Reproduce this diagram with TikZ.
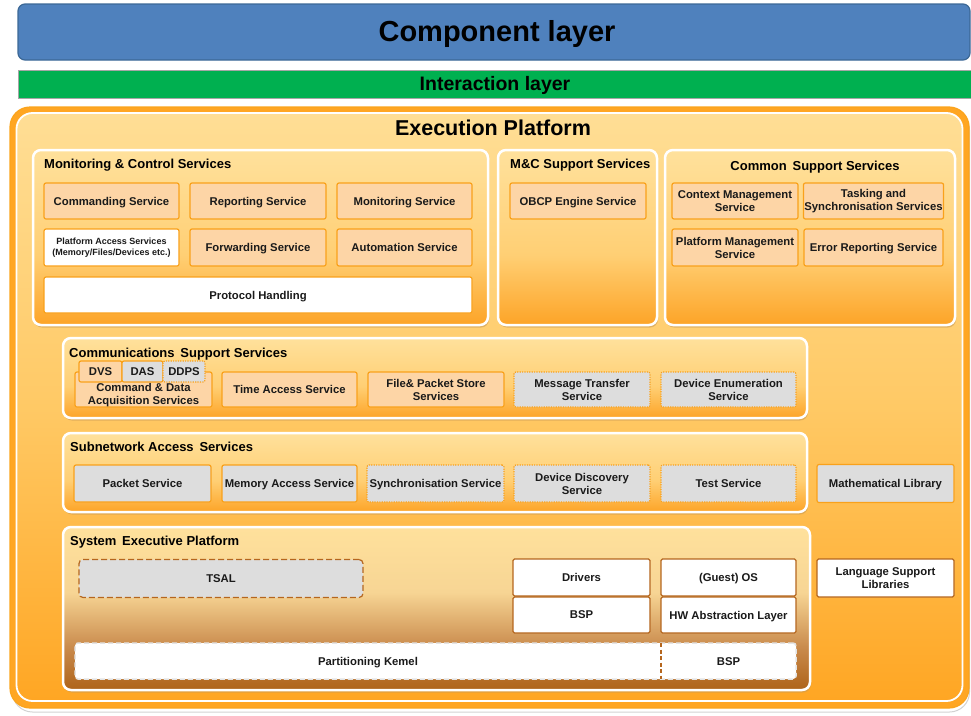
\documentclass[tikz,border=0pt]{standalone}
\usepackage{fontspec}
\setmainfont{Liberation Sans}

% palette
\definecolor{layerblue}{HTML}{4F81BD}
\definecolor{layerblueedge}{HTML}{3C6896}
\definecolor{layergreen}{HTML}{00B050}
\definecolor{epedge}{HTML}{FBA41C}
\definecolor{eptop}{HTML}{FFDE95}
\definecolor{epmid}{HTML}{FFC965}
\definecolor{epbot}{HTML}{FFA623}
\definecolor{pnltop}{HTML}{FFE19C}
\definecolor{pnlmid}{HTML}{FFCF74}
\definecolor{pnlbot}{HTML}{FDA427}
\definecolor{sxlight}{HTML}{F7D594}
\definecolor{sxmid}{HTML}{C98A4C}
\definecolor{sxbot}{HTML}{AE6319}
\definecolor{svcedge}{HTML}{F9A11B}
\definecolor{svcfill}{HTML}{FDD5A6}
\definecolor{grayfill}{HTML}{DDDDDD}
\definecolor{brownedge}{HTML}{B5661E}
\definecolor{kernedge}{HTML}{E4E4E4}
\definecolor{shadowtan}{HTML}{C89A55}
\definecolor{txt}{HTML}{1A1A1A}

% vertical gradients (0bp = bottom, 100bp = top; path spans 25bp..75bp)
\pgfdeclareverticalshading{epshade}{100bp}{color(0bp)=(epbot); color(25bp)=(epbot); color(50bp)=(epmid); color(75bp)=(eptop); color(100bp)=(eptop)}
\pgfdeclareverticalshading{pnlshade}{100bp}{color(0bp)=(pnlbot); color(25bp)=(pnlbot); color(45bp)=(pnlmid); color(75bp)=(pnltop); color(100bp)=(pnltop)}
\pgfdeclareverticalshading{sxshade}{100bp}{color(0bp)=(sxbot); color(25bp)=(sxbot); color(38bp)=(sxmid); color(55bp)=(sxlight); color(75bp)=(pnltop); color(100bp)=(pnltop)}

\newcommand\svcfont{\fontsize{11.3}{13}\selectfont\bfseries}
\newcommand\smallsvcfont{\fontsize{9}{11}\selectfont\bfseries}
\newcommand\ttlfont{\fontsize{13}{15}\selectfont\bfseries}

\tikzset{
  panel/.style={draw=white, line width=2.5pt, rounded corners=8pt, shading=pnlshade, inner sep=0pt},
  pshadow/.style={fill=shadowtan, opacity=0.55, rounded corners=8pt, inner sep=0pt},
  ptitle/.style={anchor=west, font=\ttlfont, text=black, inner sep=0pt, text depth=0pt},
  svc/.style={rectangle, draw=svcedge, line width=1.2pt, rounded corners=2pt, fill=svcfill,
    text=txt, font=\svcfont, align=center, inner sep=1pt, minimum width=136pt, minimum height=36pt},
  oneline/.style={text depth=0pt},
  graysvc/.style={svc, fill=grayfill},
  dotsvc/.style={svc, fill=grayfill, dash pattern=on 1.2pt off 1.2pt},
  whitesvc/.style={svc, fill=white},
  sepbox/.style={svc, fill=white, draw=brownedge, rounded corners=1.5pt},
  tab/.style={svc, minimum width=42pt, minimum height=21pt, inner sep=0pt, text depth=0pt},
}

\begin{document}
\begin{tikzpicture}[x=1pt, y=-1pt]
\useasboundingbox (0,0) rectangle (971,715);

% ---- top layers
\node[draw=layerblueedge, line width=1.2pt, fill=layerblue, rounded corners=7pt,
      minimum width=952pt, minimum height=56pt, inner sep=0pt] (comp) at (494,32) {};
\node[font=\fontsize{29}{32}\selectfont\bfseries, text=black] (compt) at (497,34) {Component layer};

\node[draw=gray!70, line width=0.6pt, fill=layergreen,
      minimum width=958pt, minimum height=28pt, inner sep=0pt] (inter) at (497,84) {};
\node[font=\fontsize{19.5}{22}\selectfont\bfseries, text=black] (intert) at (495,85) {Interaction layer};

% ---- execution platform frame
\node[draw=gray!35, line width=1pt, rounded corners=20pt,
      minimum width=957pt, minimum height=602pt, inner sep=0pt] (epshadow) at (491,411) {};
\node[draw=epedge, line width=1.2pt, fill=epbot, rounded corners=20pt,
      minimum width=959pt, minimum height=601pt, inner sep=0pt] (ep) at (489.5,407.5) {};
\node[draw=white, line width=1.8pt, shading=epshade, rounded corners=16pt,
      minimum width=946pt, minimum height=588pt, inner sep=0pt] (epin) at (489.5,407) {};
\node[font=\fontsize{21.5}{24}\selectfont\bfseries, text=black] (ept) at (493,128) {Execution Platform};

% ---- panels (shadow first, then panel)
\node[pshadow, minimum width=455pt, minimum height=175pt] at (261.5,240) {};
\node[panel, minimum width=455pt, minimum height=175pt] (mc) at (260.5,237.5) {};
\node[pshadow, minimum width=159pt, minimum height=175pt] at (578.5,240) {};
\node[panel, minimum width=159pt, minimum height=175pt] (mcs) at (577.5,237.5) {};
\node[pshadow, minimum width=290pt, minimum height=175pt] at (811,240) {};
\node[panel, minimum width=290pt, minimum height=175pt] (css) at (810,237.5) {};
\node[pshadow, minimum width=744pt, minimum height=80pt] at (436,380.5) {};
\node[panel, minimum width=744pt, minimum height=80pt] (comms) at (435,378) {};
\node[pshadow, minimum width=744pt, minimum height=79pt] at (436,475) {};
\node[panel, minimum width=744pt, minimum height=79pt] (subnet) at (435,472.5) {};
\node[pshadow, minimum width=747pt, minimum height=163pt] at (437.5,611) {};
\node[panel, shading=sxshade, minimum width=747pt, minimum height=163pt] (sx) at (436.5,608.5) {};

% ---- panel titles
\node[ptitle] (mct) at (44,164) {Monitoring \& Control Services};
\node[ptitle] (mcst) at (510,164) {M\&C Support Services};
\node[ptitle, anchor=center] (csst) at (815,166) {Common\, Support Services};
\node[ptitle] (commst) at (69,353) {Communications\, Support Services};
\node[ptitle] (subnett) at (70,447) {Subnetwork Access\, Services};
\node[ptitle] (sxt) at (70,541) {System\, Executive Platform};

% ---- Monitoring & Control Services
\node[svc, oneline, minimum width=135pt] (cmd) at (111.5,201) {Commanding Service};
\node[svc, oneline] (rep) at (258,201) {Reporting Service};
\node[svc, oneline, minimum width=135pt] (mon) at (404.5,201) {Monitoring Service};
\node[whitesvc, minimum width=135pt, minimum height=37pt, font=\smallsvcfont] (pas) at (111.5,247.5)
  {Platform Access Services\\(Memory/Files/Devices etc.)};
\node[svc, oneline, minimum height=37pt] (fwd) at (258,247.5) {Forwarding Service};
\node[svc, oneline, minimum width=135pt, minimum height=37pt] (aut) at (404.5,247.5) {Automation Service};
\node[whitesvc, oneline, minimum width=428pt] (proto) at (258,295) {Protocol Handling};

% ---- M&C Support Services
\node[svc, oneline] (obcp) at (578,201) {OBCP Engine Service};

% ---- Common Support Services
\node[svc, minimum width=126pt] (ctx) at (735,201) {Context Management\\Service};
\node[svc, minimum width=139pt] (task) at (873.5,201) {Tasking and\\Synchronisation Services};
\node[svc, minimum width=126pt, minimum height=37pt] (pm) at (735,247.5) {Platform Management\\Service};
\node[svc, oneline, minimum width=139pt, minimum height=37pt] (err) at (873.5,247.5) {Error Reporting Service};

% ---- Communications Support Services
\node[svc, minimum width=137pt, minimum height=35pt] (cda) at (143.5,389.5) {};
\node[font=\svcfont, text=txt, align=center, inner sep=0pt] (cdat) at (143.5,395)
  {Command \& Data\\Acquisition Services};
\node[tab, minimum width=43pt] (dvs) at (100.5,371.5) {DVS};
\node[tab, fill=grayfill, minimum width=41pt] (das) at (142.5,371.5) {DAS};
\node[tab, fill=grayfill, dash pattern=on 1.2pt off 1.2pt] (ddps) at (184,371.5) {DDPS};
\node[svc, oneline, minimum width=135pt, minimum height=35pt] (tas) at (289.5,389.5) {Time Access Service};
\node[svc, minimum height=35pt] (fps) at (436,389.5) {File\& Packet Store\\Services};
\node[dotsvc, minimum height=35pt] (mts) at (582,389.5) {Message Transfer\\Service};
\node[dotsvc, minimum width=135pt, minimum height=35pt] (des) at (728.5,389.5) {Device Enumeration\\Service};

% ---- Subnetwork Access Services
\node[graysvc, oneline, minimum width=137pt, minimum height=37pt] (pkt) at (142.5,483.5) {Packet Service};
\node[graysvc, oneline, minimum width=135pt, minimum height=37pt] (mas) at (289.5,483.5) {Memory Access Service};
\node[dotsvc, oneline, minimum width=137pt, minimum height=37pt] (syn) at (435.5,483.5) {Synchronisation Service};
\node[dotsvc, minimum height=37pt] (dds) at (582,483.5) {Device Discovery\\Service};
\node[dotsvc, oneline, minimum width=135pt, minimum height=37pt] (tst) at (728.5,483.5) {Test Service};
\node[graysvc, oneline, minimum width=137pt, minimum height=38pt] (math) at (885.5,483.5) {Mathematical Library};

% ---- System Executive Platform
\node[svc, oneline, fill=grayfill, draw=brownedge, dash pattern=on 6pt off 3pt, rounded corners=4pt,
      minimum width=284pt, minimum height=38pt] (tsal) at (221,578.5) {TSAL};
\node[sepbox, oneline, minimum width=137pt, minimum height=37pt] (drv) at (581.5,577.5) {Drivers};
\node[sepbox, oneline, minimum width=137pt, minimum height=36pt] (bsp) at (581.5,615) {BSP};
\node[sepbox, oneline, minimum width=135pt, minimum height=37pt] (gos) at (728.5,577.5) {(Guest) OS};
\node[sepbox, oneline, minimum width=135pt, minimum height=36pt] (hal) at (728.5,615) {HW Abstraction Layer};
\node[sepbox, minimum width=137pt, minimum height=38pt] (lsl) at (885.5,578) {Language Support\\Libraries};

\node[svc, fill=white, draw=kernedge, line width=1.5pt, dash pattern=on 5pt off 3pt, rounded corners=3pt,
      minimum width=721pt, minimum height=36pt] (pkbox) at (435.5,661) {};
\node[font=\svcfont, text=txt, text depth=0pt] (pk) at (368,661.5) {Partitioning Kemel};
\node[font=\svcfont, text=txt, text depth=0pt] (bsp2) at (728.5,661.5) {BSP};
\coordinate (divtop) at (661,643);
\coordinate (divbot) at (661,679);
\draw[brownedge, line width=1.2pt, dash pattern=on 4pt off 2.5pt] (divtop) -- (divbot);

\end{tikzpicture}
\end{document}
